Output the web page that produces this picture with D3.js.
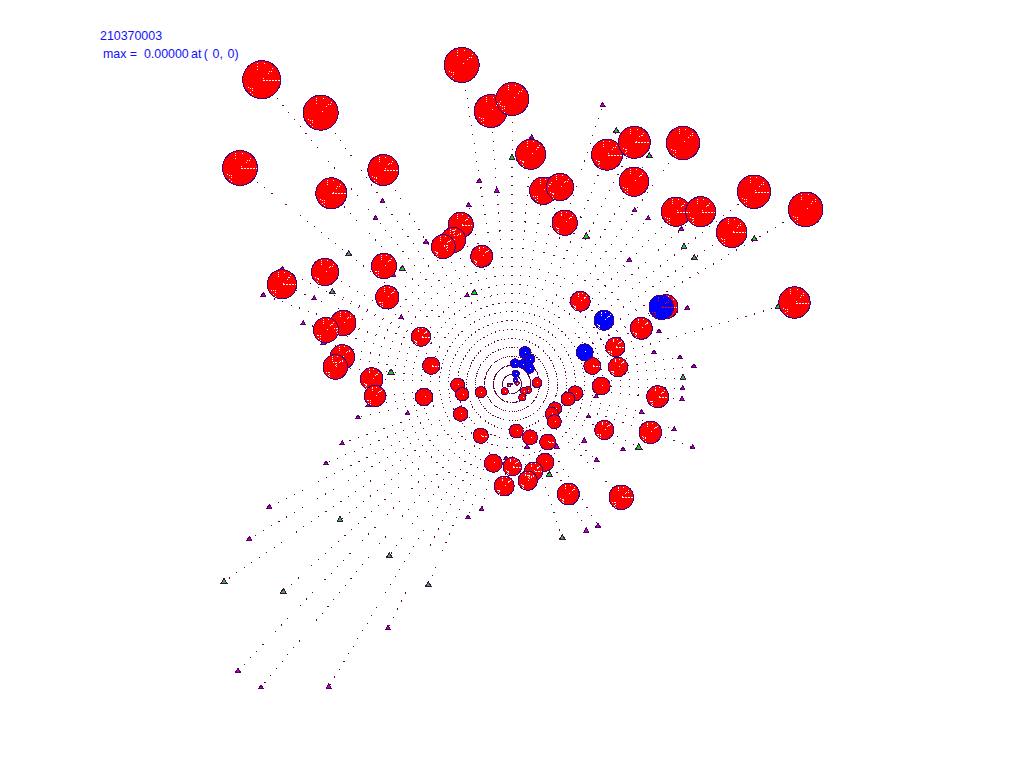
<!DOCTYPE html>
<html>
<head>
<meta charset="utf-8">
<script src="https://cdn.jsdelivr.net/npm/d3@7"></script>
<style>
  html, body { margin: 0; padding: 0; background: #fff; }
  svg { display: block; }
  text { font-family: "Liberation Sans", Arial, sans-serif; font-size: 12.4px; fill: #1010ff; white-space: pre; }
</style>
</head>
<body>
<div id="graf"></div>
<script>
// Datos: offsets este / norte desde el origen, y radio
const title = "210370003"
const maxLabel = "max =  0.00000"
const atLabel = " at (  0,  0)"

const redEast = [-250.3,-191.3,-272,-180.7,-128.7,-50.3,-21.3,-51.3,-58.7,-68.7,-30.3,.3,18.7,31.3,48,52.7,95,122.3,122,171,164,188.7,219.7,242,293.7,-230,-187,-128,-124.7,-168.7,-186,-169.7,-176.7,-140.3,-137,-91,-80.7,-88,-54.3,-49.7,-31,-51.3,-31.3,68.3,154,129.3,103.3,80.3,106,89.3,63.3,56,145.7,92.3,138.3,282.5,43,39.7,42.3,4.3,18,35.7,-18.7,.3,33,21.7,15.7,-7.7,56.3,109.3,25,-7.3,16,12,10.3,5,-3]
const redNorth = [304.3,271.3,216,190.7,214,319,273,159,144,137.3,127.7,285,229.7,193.3,197,161.3,229.3,241.7,202.3,241,172.3,172.3,151.7,192.3,174.7,99.7,112,118,86.7,61,54,27,17,5,-12,47.3,18.3,-13,-1,-10.3,-8.3,-30,-51.7,82.7,77.3,55.7,37,18,17,-2,-9.3,-15,-12.7,-46,-48.3,81.5,-24.7,-30,-37.7,-47,-53.3,-58,-79.3,-82.7,-78.3,-87.3,-96.7,-102,-110,-113.3,1.3,-7.3,-6,-7,-13.3,1,-1]
const redSize = [19,17.5,17.5,15.5,15.5,17.5,16.5,12.7,12.5,12,11,16.5,15,13.7,13.7,12.7,15.5,16,14.7,16.7,14.7,15,15.3,16.7,17.3,14.7,13.7,12.7,11.7,12.7,12.7,12.3,12.3,11.3,10.7,9.7,8.7,8.7,7,6.7,5.7,7.3,7.7,10,12,11,9.7,8.5,9.7,9,7.5,7,11,9.7,11.3,15.7,6.7,6.7,7,7,7.5,8,9,9.3,9,9.3,9.7,10,11,12.3,5,3.5,3.7,3.5,3.7,2.3,1.7]
// 1 = lleva la raya blanca del centro al borde
const redTick = [1,0,1,1,1,0,0,1,0,0,0,0,0,0,0,0,1,1,0,0,1,1,1,1,0,1,0,0,0,0,0,0,0,0,0,1,1,0,0,0,0,0,1,0,1,0,1,1,0,0,0,0,1,0,0,1,0,0,0,0,0,1,0,1,0,1,0,0,0,1,0,0,0,0,0,0,0]

const blueEast = [92,149.3,72.7,13,18,3,10.7,17.3,3.7,3.3]
const blueNorth = [63.7,76.7,31.7,31.3,24.7,20.7,20,15.7,10.3,4]
const blueSize = [10,12.3,8.5,6,5,4.5,4.5,5,3.5,2.3]
const blueTick = [0,1,0,0,0,0,0,0,0,0]

const greenEast = [-288,-228.7,-172,-122.7,-83.7,-163.3,-109.7,0,104.3,137.3,74.3,172,182.3,242.3,-179.7,-37.7,-121,266.3,171,126.7,37.3,50.3]
const greenNorth = [-197.7,-207.7,-136,-172,-201,130,115.3,226,253,228,147.7,137,126,145,92,91.3,11.7,77.3,6,-63.3,-90.7,-154]

const purpleEast = [-242.7,-262.7,-124,-274,-251,-183.3,-32.7,-15.3,-129.3,-43.3,-136.3,-86,-229.7,90.7,19.7,122.7,136.3,169.3,117.3,-118.7,-248.7,-197.7,-208.7,-110.7,-44.7,-188.7,-143.7,-154,-104.3,-169.7,-186,-30.3,-44,175.3,147,142,168,182,170.7,170,129.7,84.3,76.5,72.3,162.3,111,180.7,84.7,74.3,86,15,-6,44.7]
const purpleNorth = [-123,-155,-244,-286.7,-303.3,-302.7,203,193.3,182.7,179,165.7,142.3,115,279,246.7,173.7,165.7,155,124,109,89,85.7,60.7,66.7,88.7,41.3,-21.3,-33.3,-29.3,-59.3,-79.3,-125.3,-133.3,76,52.7,31.7,26.7,17.7,-4.3,-15,-28,-12.3,-32.5,-56.7,-45.3,-65.3,-63.3,-76,-146.7,-141.7,-62.7,-74.3,-62.7]

// Motas dentro de cada circulo (fraccion del radio)
const speckX = [-.26,-.26,-.26,.14,.39,.51,.32,.56,-.49,-.49,-.61,-.72,-.61,-.49,.08]
const speckY = [-.86,-.72,-.58,-.86,-.47,-.47,-.37,-.6,.42,.54,.42,.37,.63,.77,-.1]

// Dimensiones
const anchoTotal = 1024
const altoTotal = 768

const svg = d3.select("#graf")
  .append("svg")
  .attr("width", anchoTotal)
  .attr("height", altoTotal)

// Escaladores
const x = d3.scaleLinear().domain([-512, 512]).range([0, anchoTotal])
const y = d3.scaleLinear().domain([384, -384]).range([0, altoTotal])
const r = d3.scaleLinear().domain([0, 20]).range([0, 20])

const toRows = (east, north, extra = {}) =>
  east.map((e, i) => ({ e, n: north[i], ...Object.fromEntries(Object.entries(extra).map(([k, v]) => [k, v[i]])) }))

const reds = toRows(redEast, redNorth, { s: redSize, tick: redTick })
const blues = toRows(blueEast, blueNorth, { s: blueSize, tick: blueTick })
const greens = toRows(greenEast, greenNorth)
const purples = toRows(purpleEast, purpleNorth)
const everything = [...reds, ...blues, ...greens, ...purples]

// Rayos punteados desde el origen
svg.append("g")
  .attr("shape-rendering", "crispEdges")
  .selectAll("line")
  .data(everything)
  .join("line")
  .attr("x1", x(0))
  .attr("y1", y(0))
  .attr("x2", (d) => x(d.e))
  .attr("y2", (d) => y(d.n))
  .attr("stroke", "#600040")
  .attr("stroke-width", 1.05)
  .attr("stroke-dasharray", "1.05 7.95")

// Triangulos
const drawTriangles = (rows, fill, size) => {
  svg.append("g")
    .attr("shape-rendering", "crispEdges")
    .selectAll("path")
    .data(rows)
    .join("path")
    .attr("d", d3.symbol().type(d3.symbolTriangle).size(size))
    .attr("transform", (d) => `translate(${x(d.e)}, ${y(d.n)})`)
    .attr("fill", fill)
    .attr("stroke", "#500060")
}
drawTriangles(purples, "#c000c0", 9)
drawTriangles(greens, "#00e000", 16)

// Circulos
const drawCircles = (rows, fill, mark) => {
  const g = svg.append("g")
  g.append("g")
    .attr("shape-rendering", "crispEdges")
    .selectAll("circle")
    .data(rows)
    .join("circle")
    .attr("cx", (d) => x(d.e))
    .attr("cy", (d) => y(d.n))
    .attr("r", (d) => r(d.s))
    .attr("fill", fill)
    .attr("stroke", "#400080")

  // motas, en los pequenos solo la del centro
  g.append("g")
    .selectAll("g")
    .data(rows)
    .join("g")
    .selectAll("rect")
    .data((d) => speckX
      .map((sx, i) => ({
        px: Math.round(x(d.e) + sx * r(d.s)),
        py: Math.round(y(d.n) + speckY[i] * r(d.s)),
      }))
      .slice(d.s > 9 ? 0 : speckX.length - 1))
    .join("rect")
    .attr("x", (d) => d.px)
    .attr("y", (d) => d.py)
    .attr("width", 1)
    .attr("height", 1)
    .attr("fill", mark)

  // raya del centro al borde
  g.append("g")
    .attr("shape-rendering", "crispEdges")
    .selectAll("line")
    .data(rows.filter((d) => d.tick))
    .join("line")
    .attr("x1", (d) => x(d.e) + 1)
    .attr("x2", (d) => x(d.e) + r(d.s) - 1)
    .attr("y1", (d) => Math.round(y(d.n)) + 0.5)
    .attr("y2", (d) => Math.round(y(d.n)) + 0.5)
    .attr("stroke", mark)
    .attr("stroke-dasharray", "2 1")
}
drawCircles(reds, "#ff0000", "#ffffff")
drawCircles(blues.filter((d) => !d.tick), "#0000ff", "#ffffff")
drawCircles(blues.filter((d) => d.tick), "#0000ff", "#ff0000")

// Titulos
svg.append("text").attr("x", 100).attr("y", 40).text(title)
const maxText = svg.append("text").attr("x", 103).attr("y", 58)
maxText.append("tspan").text(maxLabel)
maxText.append("tspan").attr("word-spacing", "-1.1").text(atLabel)
</script>
</body>
</html>
